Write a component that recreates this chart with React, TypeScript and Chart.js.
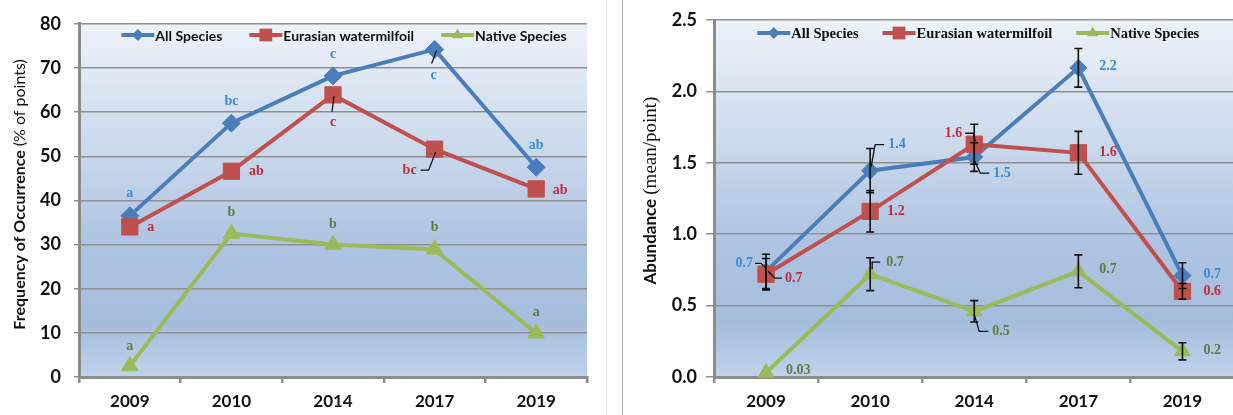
import { useEffect, useRef } from "react";
import { Chart, registerables } from "chart.js";

Chart.register(...registerables);

// ---------- data ----------
const years = ["2009", "2010", "2014", "2017", "2019"];
const seriesNames = ["All Species", "Eurasian watermilfoil", "Native Species"];

// Frequency of occurrence (% of sampled points)
const freqAll = [36.5, 57.5, 68.2, 74.2, 47.5];
const freqMilfoil = [34.0, 46.6, 63.9, 51.6, 42.6];
const freqNative = [2.5, 32.5, 30.0, 28.9, 9.9];
const freqTicks = [0, 10, 20, 30, 40, 50, 60, 70, 80];

// Significance groupings for the frequency panel
const lettersAll = ["a", "bc", "c", "c", "ab"];
const lettersMilfoil = ["a", "ab", "c", "bc", "ab"];
const lettersNative = ["a", "b", "b", "b", "a"];

// Abundance (mean per point) and standard errors
const abunAll = [0.74, 1.445, 1.54, 2.165, 0.71];
const abunMilfoil = [0.72, 1.16, 1.63, 1.57, 0.6];
const abunNative = [0.03, 0.72, 0.46, 0.74, 0.18];
const errAll = [0.12, 0.155, 0.1, 0.135, 0.09];
const errMilfoil = [0.11, 0.145, 0.14, 0.15, 0.055];
const errNative = [0, 0.115, 0.075, 0.115, 0.06];
const abunTicks = [0, 0.5, 1.0, 1.5, 2.0, 2.5];

// ---------- styles ----------
const BLUE = "#4a7ebb";
const RED = "#c0504d";
const GREEN = "#9bbb59";
const BLUE_TEXT = "#3a8bd3";
const RED_TEXT = "#c22a3c";
const GREEN_TEXT = "#607c45";
const AXIS = "#8c8c8c";
const GRID = "#8f8f8f";
const SANS = "Lato, 'Open Sans', sans-serif";
const SERIF = "'Liberation Serif', 'DejaVu Serif', serif";

const PLOT_GRADIENT: [number, string][] = [
  [0, "#edf2f9"],
  [0.3, "#d0ddee"],
  [0.62, "#aec4e2"],
  [0.85, "#a5bddc"],
  [1, "#c0d3ec"],
];

type Place = { dx: number; dy: number; align?: CanvasTextAlign; leader?: number[][] };

// label placement relative to each marker
const freqPlaceAll: Place[] = [
  { dx: 0, dy: -22 },
  { dx: 0, dy: -22 },
  { dx: 0, dy: -22 },
  { dx: -1, dy: 26, leader: [[2, 1], [-3, 14]] },
  { dx: 0, dy: -22 },
];
const freqPlaceMilfoil: Place[] = [
  { dx: 21, dy: 1 },
  { dx: 25, dy: 0 },
  { dx: 0, dy: 28, leader: [[1, 1], [-1, 17]] },
  { dx: -25, dy: 21, leader: [[-14, 21], [-6, 21], [1, 3]] },
  { dx: 24, dy: 1 },
];
const freqPlaceNative: Place[] = [
  { dx: 0, dy: -20 },
  { dx: 0, dy: -21 },
  { dx: 0, dy: -20 },
  { dx: 0, dy: -22 },
  { dx: 0, dy: -21 },
];

const abunPlaceAll: Place[] = [
  { dx: -13, dy: -8, align: "right", leader: [[-11, -8], [-5, -8], [0, -3]] },
  { dx: 18, dy: -26, align: "left", leader: [[1, -4], [5, -26], [14, -26]] },
  { dx: 19, dy: 16, align: "left", leader: [[0, 3], [6, 16], [15, 16]] },
  { dx: 21, dy: -1, align: "left" },
  { dx: 21, dy: -1, align: "left" },
];
const abunPlaceMilfoil: Place[] = [
  { dx: 19, dy: 4, align: "left", leader: [[2, -3], [9, 4], [16, 4]] },
  { dx: 17, dy: 0, align: "left" },
  { dx: -12, dy: -11, align: "right", leader: [[-9, -11], [-1, -11], [1, -3]] },
  { dx: 21, dy: 0, align: "left" },
  { dx: 21, dy: 0, align: "left" },
];
const abunPlaceNative: Place[] = [
  { dx: 20, dy: -2, align: "left" },
  { dx: 16, dy: -12, align: "left", leader: [[2, -5], [2, -12], [10, -12]] },
  { dx: 18, dy: 20, align: "left", leader: [[0, 3], [5, 20], [14, 20]] },
  { dx: 21, dy: -2, align: "left" },
  { dx: 21, dy: -1, align: "left" },
];

const fmtValue = (v: number) => (v < 0.1 ? v.toFixed(2) : v.toFixed(1));

// ---------- plugins ----------
function plotBackground(): any {
  return {
    id: "plotBackground",
    beforeDraw(chart: any) {
      const { ctx, chartArea: a } = chart;
      const g = ctx.createLinearGradient(0, a.top, 0, a.bottom);
      PLOT_GRADIENT.forEach(([s, c]) => g.addColorStop(s, c));
      ctx.save();
      ctx.fillStyle = g;
      ctx.fillRect(a.left, a.top, a.right - a.left, a.bottom - a.top);
      ctx.restore();
    },
  };
}

function drawMarker(ctx: CanvasRenderingContext2D, style: string, x: number, y: number, r: number) {
  ctx.beginPath();
  if (style === "rectRot") {
    ctx.moveTo(x - r, y);
    ctx.lineTo(x, y - r);
    ctx.lineTo(x + r, y);
    ctx.lineTo(x, y + r);
  } else if (style === "rect") {
    const s = r * Math.SQRT1_2;
    ctx.rect(x - s, y - s, 2 * s, 2 * s);
  } else {
    ctx.moveTo(x, y - r);
    ctx.lineTo(x + r * 0.866, y + r * 0.5);
    ctx.lineTo(x - r * 0.866, y + r * 0.5);
  }
  ctx.closePath();
  ctx.fill();
}

function insideLegend(font: string, y: number, gap: number, shift: number): any {
  const LINE = 33;
  const sizes: Record<string, number> = { rectRot: 6, rect: 9, triangle: 6.5 };
  return {
    id: "insideLegend",
    afterDraw(chart: any) {
      const { ctx, chartArea: a } = chart;
      ctx.save();
      ctx.font = font;
      const ds = chart.data.datasets;
      const widths = ds.map((d: any) => LINE + 1 + ctx.measureText(d.label).width);
      const total = widths.reduce((s: number, w: number) => s + w, 0) + gap * (ds.length - 1);
      let x = (a.left + a.right) / 2 - total / 2 + shift;
      ds.forEach((d: any, i: number) => {
        ctx.strokeStyle = d.borderColor;
        ctx.lineWidth = 4;
        ctx.beginPath();
        ctx.moveTo(x, y);
        ctx.lineTo(x + LINE, y);
        ctx.stroke();
        ctx.fillStyle = d.borderColor;
        drawMarker(ctx, d.pointStyle, x + LINE / 2, y, sizes[d.pointStyle]);
        ctx.fillStyle = "#111";
        ctx.textBaseline = "middle";
        ctx.textAlign = "left";
        ctx.fillText(d.label, x + LINE + 1, y + 1);
        x += widths[i] + gap;
      });
      ctx.restore();
    },
  };
}

function sideTitle(parts: { text: string; font: string }[], x: number, shiftY: number): any {
  return {
    id: "sideTitle",
    afterDraw(chart: any) {
      const { ctx, chartArea: a } = chart;
      ctx.save();
      const widths = parts.map((p) => {
        ctx.font = p.font;
        return ctx.measureText(p.text).width;
      });
      const total = widths.reduce((s, w) => s + w, 0);
      ctx.translate(x, (a.top + a.bottom) / 2 + shiftY);
      ctx.rotate(-Math.PI / 2);
      ctx.textBaseline = "middle";
      ctx.textAlign = "left";
      ctx.fillStyle = "#111";
      let cx = -total / 2;
      parts.forEach((p, i) => {
        ctx.font = p.font;
        ctx.fillText(p.text, cx, 0);
        cx += widths[i];
      });
      ctx.restore();
    },
  };
}

function errorBars(errors: number[][]): any {
  return {
    id: "errorBars",
    afterDatasetsDraw(chart: any) {
      const { ctx } = chart;
      const yScale = chart.scales.y;
      ctx.save();
      ctx.strokeStyle = "#111";
      ctx.lineWidth = 1.6;
      chart.data.datasets.forEach((d: any, i: number) => {
        const meta = chart.getDatasetMeta(i);
        d.data.forEach((v: number, j: number) => {
          const e = errors[i][j];
          if (!e) return;
          const x = meta.data[j].x;
          const t = yScale.getPixelForValue(v + e);
          const b = yScale.getPixelForValue(v - e);
          ctx.beginPath();
          ctx.moveTo(x, t);
          ctx.lineTo(x, b);
          ctx.moveTo(x - 4, t);
          ctx.lineTo(x + 4, t);
          ctx.moveTo(x - 4, b);
          ctx.lineTo(x + 4, b);
          ctx.stroke();
        });
      });
      ctx.restore();
    },
  };
}

function pointLabels(texts: string[][], places: Place[][], colors: string[], font: string): any {
  return {
    id: "pointLabels",
    afterDraw(chart: any) {
      const { ctx } = chart;
      ctx.save();
      ctx.font = font;
      ctx.textBaseline = "middle";
      chart.data.datasets.forEach((_d: any, i: number) => {
        const meta = chart.getDatasetMeta(i);
        meta.data.forEach((pt: any, j: number) => {
          const p = places[i][j];
          if (p.leader) {
            ctx.strokeStyle = "#111";
            ctx.lineWidth = 1.3;
            ctx.beginPath();
            p.leader.forEach(([lx, ly], k) => {
              if (k === 0) ctx.moveTo(pt.x + lx, pt.y + ly);
              else ctx.lineTo(pt.x + lx, pt.y + ly);
            });
            ctx.stroke();
          }
          ctx.fillStyle = colors[i];
          ctx.textAlign = p.align || "center";
          ctx.fillText(texts[i][j], pt.x + p.dx, pt.y + p.dy);
        });
      });
      ctx.restore();
    },
  };
}

// ---------- chart builders ----------
function series(values: number[][], sizes: number[]) {
  const colors = [BLUE, RED, GREEN];
  const styles = ["rectRot", "rect", "triangle"];
  return values.map((v, i) => ({
    label: seriesNames[i],
    data: v,
    borderColor: colors[i],
    backgroundColor: colors[i],
    pointBackgroundColor: colors[i],
    pointBorderColor: colors[i],
    pointBorderWidth: 1,
    pointStyle: styles[i],
    pointRadius: sizes[i],
    borderWidth: 4,
    tension: 0,
    clip: false,
    order: 3 - i,
  }));
}

function axes(ticks: number[], yWidth: number, yPad: number, yTickLen: number, fmt: (v: number) => string) {
  return {
    x: {
      offset: true,
      grid: { offset: true, drawOnChartArea: false, color: AXIS, lineWidth: 2.5, tickLength: 6 },
      border: { color: AXIS, width: 3 },
      ticks: { font: { family: SANS, size: 17, weight: "bold" }, color: "#111", padding: 8 },
      afterFit: (s: any) => {
        s.height = 38;
      },
    },
    y: {
      min: ticks[0],
      max: ticks[ticks.length - 1],
      afterBuildTicks: (s: any) => {
        s.ticks = ticks.map((value) => ({ value }));
      },
      grid: { color: GRID, lineWidth: 1.5, tickLength: yTickLen },
      border: { color: AXIS, width: 3 },
      ticks: {
        font: { family: SANS, size: 18, weight: "bold" },
        color: "#111",
        padding: yPad,
        callback: (v: any) => fmt(Number(v)),
      },
      afterFit: (s: any) => {
        s.width = yWidth;
      },
    },
  };
}

function frequencyConfig(): any {
  return {
    type: "line",
    data: { labels: years, datasets: series([freqAll, freqMilfoil, freqNative], [9, 11.5, 9.5]) },
    options: {
      animation: false,
      responsive: false,
      events: [],
      layout: { padding: { top: 20, right: 20, left: 0, bottom: 0 } },
      plugins: { legend: { display: false }, tooltip: { enabled: false } },
      scales: axes(freqTicks, 79, 13, 5, (v) => String(v)),
    },
    plugins: [
      plotBackground(),
      insideLegend(`bold 14px ${SANS}`, 35, 27, 11),
      sideTitle(
        [
          { text: "Frequency of Occurrence ", font: `bold 16px ${SANS}` },
          { text: "(% of points)", font: `16px ${SANS}` },
        ],
        20,
        -6
      ),
      pointLabels(
        [lettersAll, lettersMilfoil, lettersNative],
        [freqPlaceAll, freqPlaceMilfoil, freqPlaceNative],
        [BLUE_TEXT, RED_TEXT, GREEN_TEXT],
        `bold 14px ${SERIF}`
      ),
    ],
  };
}

function abundanceConfig(): any {
  const values = [abunAll, abunMilfoil, abunNative];
  return {
    type: "line",
    data: { labels: years, datasets: series(values, [8.5, 11.5, 9]) },
    options: {
      animation: false,
      responsive: false,
      events: [],
      layout: { padding: { top: 20, right: 0, left: 0, bottom: 0 } },
      plugins: { legend: { display: false }, tooltip: { enabled: false } },
      scales: axes(abunTicks, 91, 9, 8, (v) => v.toFixed(1)),
    },
    plugins: [
      plotBackground(),
      insideLegend(`bold 14.5px ${SERIF}`, 33, 24, 4),
      sideTitle(
        [
          { text: "Abundance ", font: `bold 17px ${SANS}` },
          { text: "(mean/point)", font: `19px ${SERIF}` },
        ],
        28,
        -8
      ),
      errorBars([errAll, errMilfoil, errNative]),
      pointLabels(
        values.map((v) => v.map(fmtValue)),
        [abunPlaceAll, abunPlaceMilfoil, abunPlaceNative],
        [BLUE_TEXT, RED_TEXT, GREEN_TEXT],
        `bold 14px ${SERIF}`
      ),
    ],
  };
}

function ChartCanvas({ build, left, width, height }: { build: () => any; left: number; width: number; height: number }) {
  const ref = useRef<HTMLCanvasElement>(null);
  useEffect(() => {
    const chart = new Chart(ref.current as HTMLCanvasElement, build());
    return () => chart.destroy();
  }, [build]);
  return (
    <canvas
      ref={ref}
      width={width}
      height={height}
      style={{ position: "absolute", left, top: 0, width, height, display: "block" }}
    />
  );
}

export default function App() {
  return (
    <div style={{ position: "absolute", left: 0, top: 0, width: 1233, height: 415, background: "#fff", overflow: "hidden" }}>
      <ChartCanvas build={frequencyConfig} left={0} width={607} height={415} />
      <div style={{ position: "absolute", left: 606, top: 0, width: 1, height: 415, background: "#ececec" }} />
      <div style={{ position: "absolute", left: 622, top: 0, width: 1, height: 415, background: "#b4b4b4" }} />
      <ChartCanvas build={abundanceConfig} left={623} width={624} height={415} />
    </div>
  );
}
